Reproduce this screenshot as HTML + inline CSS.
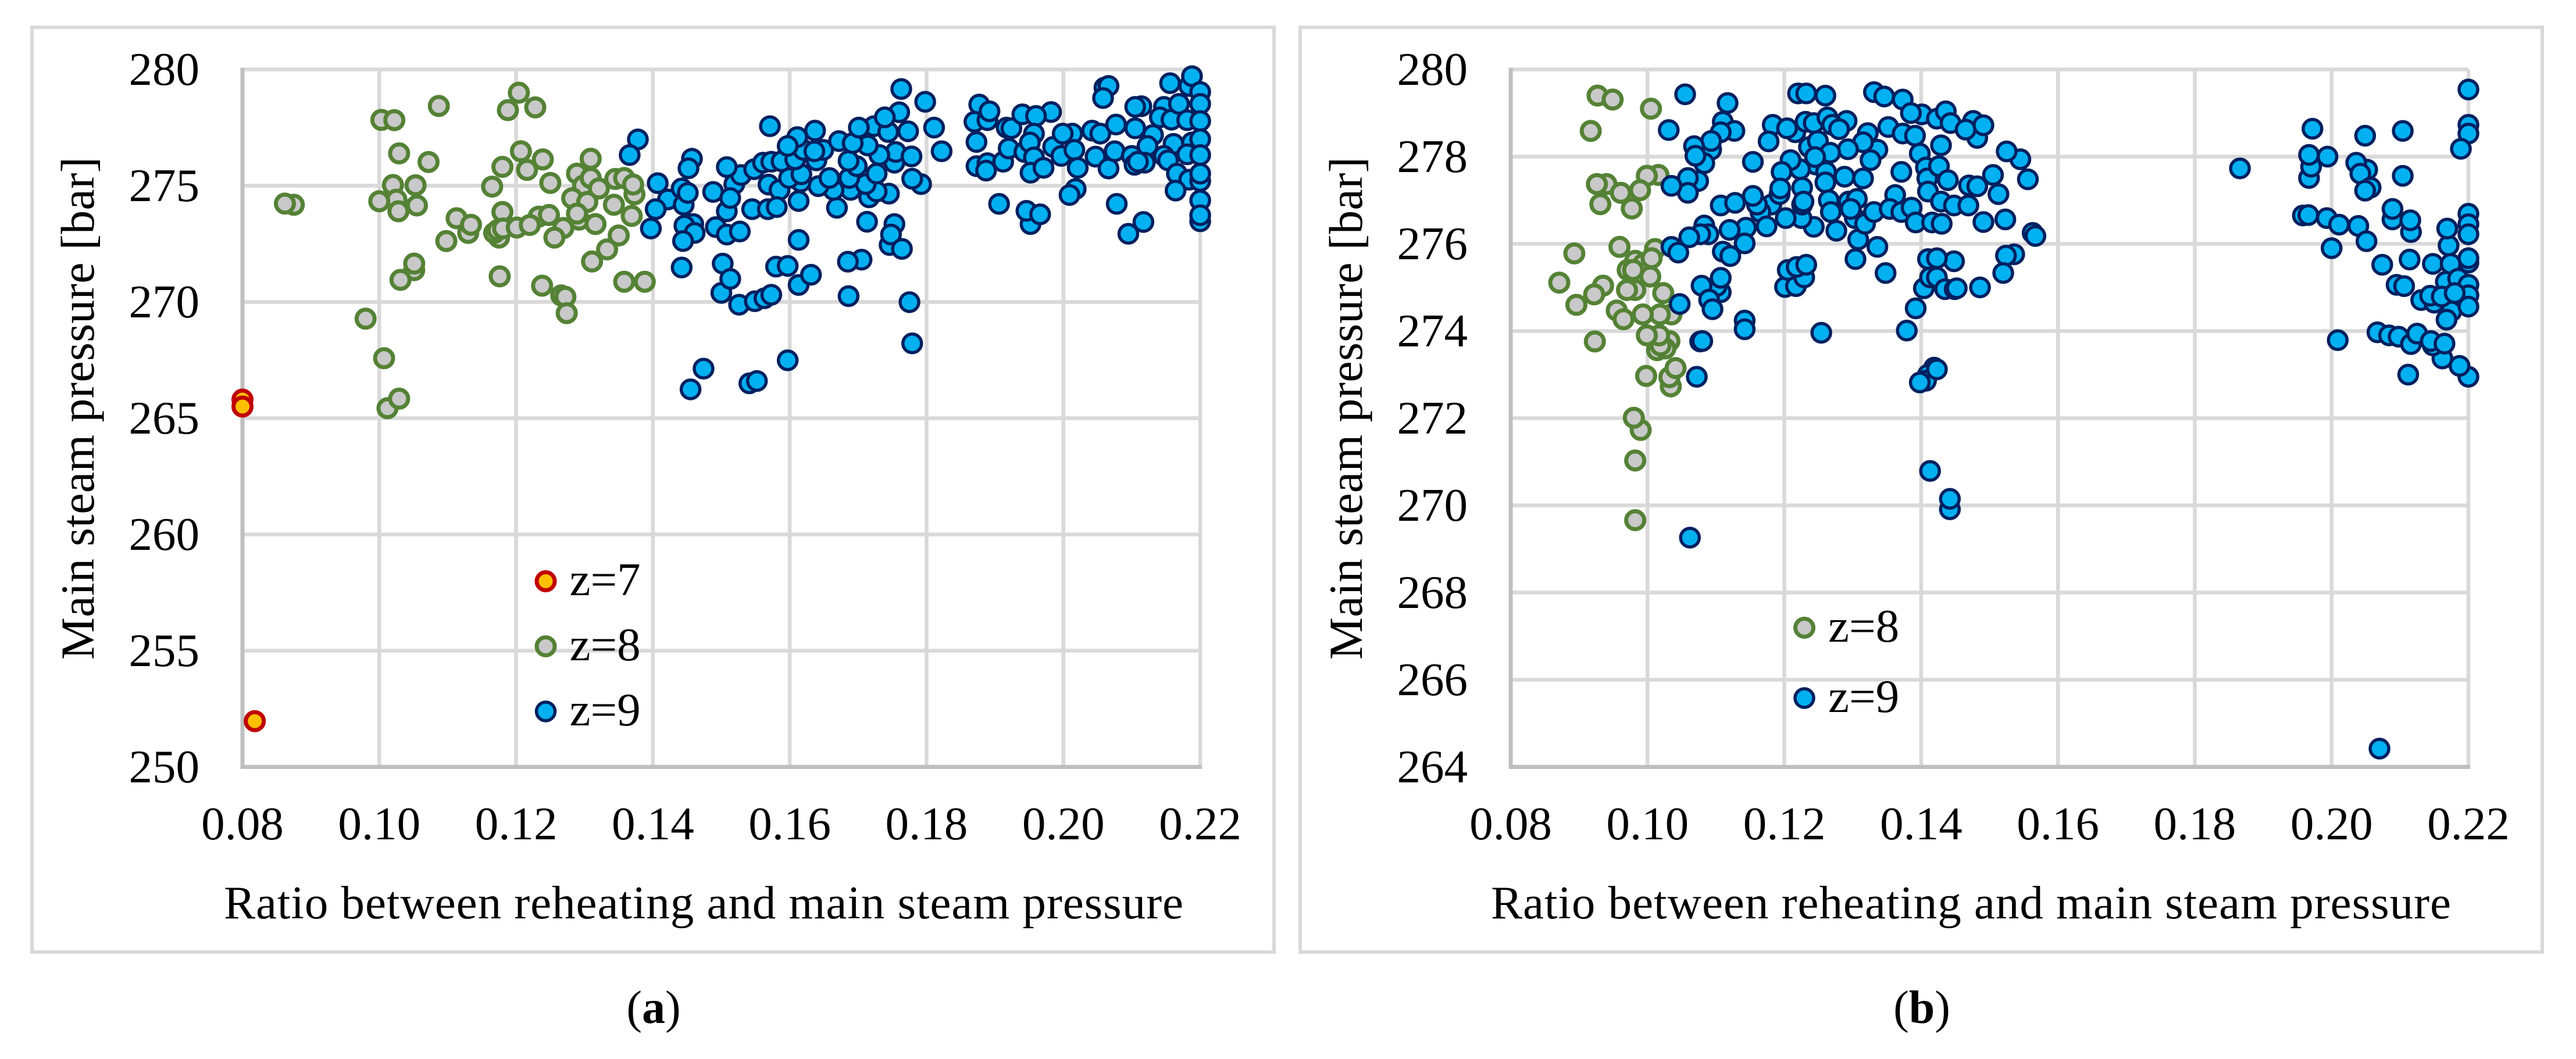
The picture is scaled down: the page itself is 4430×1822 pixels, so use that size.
<!DOCTYPE html>
<html lang="en">
<head>
<meta charset="utf-8">
<title>Main steam pressure vs reheating ratio</title>
<style>
html,body{margin:0;padding:0;background:#fff;width:4430px;height:1822px;overflow:hidden}
svg{display:block}
text{font-family:"Liberation Serif","DejaVu Serif",serif;fill:#000}
</style>
</head>
<body>
<svg id="figure" xmlns="http://www.w3.org/2000/svg" width="4430" height="1822" viewBox="0 0 4430 1822">
  <rect x="0" y="0" width="4430" height="1822" fill="#fff"/>
  <rect x="55" y="47" width="2136" height="1591" fill="#fff" stroke="#d9d9d9" stroke-width="6"/>
  <rect x="2236" y="47" width="2136" height="1591" fill="#fff" stroke="#d9d9d9" stroke-width="6"/>
  <g id="panel-a"></g>
  <g id="panel-b"></g>
  <text transform="translate(161,1135) rotate(-90)" font-size="82" textLength="865" lengthAdjust="spacing">Main steam pressure [bar]</text>
  <text transform="translate(2342,1135) rotate(-90)" font-size="82" textLength="865" lengthAdjust="spacing">Main steam pressure [bar]</text>
  <text x="385" y="1580" font-size="81" textLength="1650" lengthAdjust="spacing">Ratio between reheating and main steam pressure</text>
  <text x="2564" y="1580" font-size="81" textLength="1651" lengthAdjust="spacing">Ratio between reheating and main steam pressure</text>
  <text x="1124" y="1760" font-size="80" text-anchor="middle">(<tspan font-weight="bold">a</tspan>)</text>
  <text x="3305" y="1760" font-size="80" text-anchor="middle">(<tspan font-weight="bold">b</tspan>)</text>
</svg>
<script>
const ratioTicks = [0.08, 0.10, 0.12, 0.14, 0.16, 0.18, 0.20, 0.22];
const pressureTicksA = [250, 255, 260, 265, 270, 275, 280];
const pressureTicksB = [264, 266, 268, 270, 272, 274, 276, 278, 280];

const panelAz7 = [[0.0800,265.8],[0.0800,265.5],[0.0818,251.97]];

const panelAz8 = [
[0.1204,279.0],[0.1188,278.25],[0.1228,278.37],[0.1087,278.43],[0.1003,277.83],[0.1022,277.82],
[0.1207,276.48],[0.1180,275.81],[0.1216,275.68],[0.1239,276.13],[0.1029,276.39],[0.1072,276.02],
[0.1309,276.16],[0.1250,275.12],[0.1165,274.96],[0.1020,275.03],[0.1053,275.02],[0.1025,274.4],
[0.1000,274.33],[0.1028,273.9],[0.1055,274.15],[0.0875,274.18],[0.0862,274.23],[0.1289,275.52],
[0.1298,275.0],[0.1309,275.33],[0.1321,274.88],[0.1282,274.46],[0.1304,274.3],[0.1345,275.29],
[0.1358,275.33],[0.1373,274.63],[0.1371,275.05],[0.1343,274.18],[0.1292,273.54],[0.1289,273.8],
[0.1369,273.7],[0.1316,273.35],[0.1350,272.86],[0.1333,272.26],[0.1311,271.74],[0.1358,270.87],
[0.1388,270.87],[0.1238,270.7],[0.1266,270.28],[0.1272,270.22],[0.1274,269.52],[0.1176,271.1],
[0.1180,273.87],[0.1233,273.67],[0.1248,273.74],[0.1175,272.77],[0.1168,272.97],[0.1173,273.09],
[0.1181,273.16],[0.1201,273.2],[0.1220,273.31],[0.1269,273.18],[0.1256,272.77],[0.1113,273.6],
[0.1130,272.97],[0.1134,273.32],[0.1098,272.62],[0.1051,271.37],[0.1051,271.65],[0.1031,270.95],
[0.0980,269.28],[0.1007,267.58],[0.1012,265.43],[0.1029,265.84]
];

const panelAz9 = [
[0.1378,276.99],[0.1366,276.32],[0.1457,276.16],[0.1452,275.75],[0.1407,275.11],[0.1422,274.41],
[0.1404,273.99],[0.1397,273.16],[0.1442,274.88],[0.1445,274.18],[0.1451,274.69],[0.1459,273.35],
[0.1446,273.28],[0.1461,272.97],[0.1444,272.62],[0.1442,271.48],[0.1488,274.73],[0.1519,275.07],
[0.1508,273.9],[0.1513,274.47],[0.1492,273.22],[0.1508,272.9],[0.1527,273.03],[0.1545,273.99],
[0.1529,275.46],[0.1508,275.8],[0.1548,275.71],[0.1571,277.56],[0.1569,275.05],[0.1585,274.82],
[0.1568,273.99],[0.1581,274.08],[0.1613,274.34],[0.1613,272.67],[0.1502,271.65],[0.1500,270.39],
[0.1513,270.99],[0.1526,269.88],[0.1549,270.03],[0.1563,270.16],[0.1573,270.31],[0.1580,271.52],
[0.1597,271.55],[0.1613,270.73],[0.1631,271.17],[0.1705,271.82],[0.1685,271.73],[0.1686,270.25],
[0.1775,269.99],[0.1779,268.22],[0.1597,267.49],[0.1541,266.5],[0.1552,266.6],[0.1474,267.13],
[0.1455,266.24],[0.1713,273.45],[0.1753,273.35],[0.1746,272.45],[0.1748,272.9],[0.1764,272.28],
[0.1669,274.05],[0.1745,274.66],[0.1716,274.5],[0.1727,274.75],[0.1689,274.82],[0.1664,274.82],
[0.1642,274.98],[0.1616,275.17],[0.1599,275.33],[0.1617,275.49],[0.1658,275.33],[0.1711,275.07],
[0.1687,275.33],[0.1727,275.52],[0.1792,275.07],[0.1779,275.3],[0.1753,275.99],[0.1755,276.45],
[0.1778,276.26],[0.1731,276.32],[0.1698,275.84],[0.1686,276.07],[0.1561,275.99],[0.1573,276.03],
[0.1588,276.05],[0.1608,276.13],[0.1639,276.09],[0.1649,276.54],[0.1620,276.54],[0.1636,276.48],
[0.1611,277.09],[0.1597,276.71],[0.1637,277.37],[0.1672,276.92],[0.1714,276.73],[0.1692,276.83],
[0.1723,277.56],[0.1701,277.5],[0.1744,277.31],[0.1773,277.34],[0.1760,278.16],[0.1739,277.94],
[0.1763,279.16],[0.1798,278.61],[0.1811,277.5],[0.1822,276.48],[0.1877,278.49],[0.1870,277.75],
[0.1889,277.82],[0.1892,278.2],[0.1873,276.88],[0.1873,275.84],[0.1889,275.97],[0.1887,275.65],
[0.1912,276.03],[0.1920,276.6],[0.1917,277.5],[0.1924,277.47],[0.1943,276.45],[0.1940,278.07],
[0.1982,278.17],[0.1960,278.0],[0.1957,277.24],[0.1951,276.86],[0.1957,276.22],[0.1952,275.56],
[0.1971,275.77],[0.1985,276.67],[0.1997,276.28],[0.2013,277.24],[0.1999,277.24],[0.2016,276.54],
[0.2021,275.77],[0.2042,277.37],[0.2054,277.24],[0.2047,276.25],[0.2066,275.74],[0.2075,276.48],
[0.2077,277.63],[0.2060,279.22],[0.2066,279.29],[0.2058,278.77],[0.2114,278.42],[0.2105,278.39],
[0.2105,277.47],[0.2131,277.18],[0.2123,276.71],[0.2100,276.28],[0.2119,275.99],[0.2104,275.9],
[0.2109,276.03],[0.2147,278.39],[0.2141,277.94],[0.2158,277.84],[0.2156,279.41],[0.2184,279.29],
[0.2188,279.71],[0.2169,278.52],[0.2181,277.82],[0.2161,276.8],[0.2147,276.28],[0.2153,276.09],
[0.2166,275.52],[0.2184,275.26],[0.2164,274.79],[0.2188,276.86],[0.2181,276.35],[0.22,279.03],
[0.22,278.52],[0.22,277.78],[0.22,277.0],[0.22,276.32],[0.22,275.2],[0.22,275.52],
[0.22,273.47],[0.22,274.37],[0.22,273.73],[0.2018,274.86],[0.2009,274.6],[0.2078,274.22],
[0.2117,273.44],[0.2095,272.93],[0.1906,274.22],[0.1952,273.35],[0.1946,273.92],[0.1966,273.77]
];

const panelBz8 = [
[0.0927,279.40],[0.0949,279.31],[0.1005,279.10],[0.0917,278.59],[0.0940,277.37],[0.0926,277.37],
[0.0961,277.17],[0.1016,277.58],[0.0999,277.56],[0.0989,277.23],[0.0931,276.91],[0.0977,276.81],
[0.0959,275.93],[0.0893,275.78],[0.1011,275.88],[0.0982,275.61],[0.0994,275.54],[0.1006,275.67],
[0.0971,275.4],[0.0979,275.4],[0.1004,275.25],[0.0871,275.11],[0.0935,275.04],[0.0922,274.84],
[0.0982,274.94],[0.0970,274.94],[0.1023,274.87],[0.0896,274.6],[0.0955,274.47],[0.1035,274.38],
[0.1018,274.38],[0.0993,274.38],[0.0965,274.27],[0.1032,273.77],[0.1014,273.56],[0.1026,273.6],
[0.1019,273.67],[0.1017,273.9],[0.0999,273.9],[0.0923,273.76],[0.0998,272.97],[0.1034,272.73],
[0.1032,272.94],[0.1041,273.15],[0.0990,271.73],[0.0980,272.01],[0.0982,271.03],[0.0982,269.66]
];

const panelBz9 = [
[0.1055,279.43],[0.1117,279.23],[0.1031,278.61],[0.1110,278.80],[0.1127,278.59],[0.1107,278.56],
[0.1093,278.16],[0.1093,278.36],[0.1068,278.24],[0.1083,277.85],[0.1070,278.02],[0.1154,277.88],
[0.1074,277.44],[0.1059,277.51],[0.1059,277.17],[0.1035,277.33],[0.1107,276.88],[0.1128,276.94],
[0.1181,276.9],[0.1165,276.73],[0.1160,276.9],[0.1154,277.1],[0.1174,276.4],[0.1144,276.37],
[0.1120,276.32],[0.1083,276.42],[0.1089,276.22],[0.1077,276.22],[0.1061,276.15],[0.1035,275.93],
[0.1045,275.8],[0.1142,276.01],[0.1110,275.82],[0.1121,275.72],[0.1107,274.89],[0.1101,275.03],
[0.1107,275.22],[0.1079,275.04],[0.1090,274.72],[0.1095,274.5],[0.1047,274.62],[0.1142,274.24],
[0.1142,274.04],[0.1077,273.76],[0.1080,273.77],[0.1072,272.95],[0.1254,273.96],[0.1379,274.01],
[0.1392,274.52],[0.1348,275.33],[0.1304,275.65],[0.1336,275.93],[0.1308,276.1],[0.1276,276.3],
[0.1243,276.39],[0.1225,276.59],[0.1202,276.59],[0.1201,275.01],[0.1217,275.03],[0.1229,275.23],
[0.1205,275.4],[0.1218,275.47],[0.1232,275.52],[0.1404,274.98],[0.1410,275.65],[0.1413,275.23],
[0.1419,273.16],[0.1410,273.0],[0.1407,272.86],[0.1398,272.82],[0.1220,279.45],[0.1232,279.45],
[0.1260,279.4],[0.1331,279.48],[0.1346,279.38],[0.1373,279.31],[0.1401,278.97],[0.1385,279.0],
[0.1183,278.73],[0.1216,278.56],[0.1204,278.65],[0.1177,278.35],[0.1231,278.8],[0.1243,278.77],
[0.1263,278.9],[0.1291,278.82],[0.1270,278.73],[0.1280,278.63],[0.1352,278.68],[0.1322,278.54],
[0.1373,278.53],[0.1391,278.48],[0.1236,278.22],[0.1249,278.36],[0.1336,278.16],[0.1315,278.33],
[0.1293,278.17],[0.1267,278.09],[0.1398,278.07],[0.1246,277.82],[0.1223,277.71],[0.1245,277.99],
[0.1209,277.92],[0.1326,277.92],[0.1196,277.65],[0.1261,277.65],[0.1371,277.65],[0.1288,277.54],
[0.1315,277.5],[0.1407,277.75],[0.1409,277.5],[0.1260,277.41],[0.1193,277.14],[0.1194,277.27],
[0.1226,277.29],[0.1362,277.12],[0.1410,277.2],[0.1226,276.9],[0.1228,276.97],[0.1265,277.0],
[0.1294,276.97],[0.1306,277.03],[0.1303,276.59],[0.1297,276.8],[0.1268,276.73],[0.1318,276.46],
[0.1331,276.73],[0.1354,276.8],[0.1371,276.73],[0.1386,276.83],[0.1392,276.49],[0.1416,276.49],
[0.1423,278.87],[0.1436,279.04],[0.1443,278.77],[0.1482,278.43],[0.1476,278.82],[0.1465,278.62],
[0.1491,278.72],[0.1429,278.26],[0.1545,277.94],[0.1525,278.12],[0.1556,277.48],[0.1426,277.78],
[0.1439,277.46],[0.1470,277.34],[0.1482,277.32],[0.1513,277.14],[0.1505,277.58],[0.1429,276.97],
[0.1448,276.88],[0.1469,276.88],[0.1491,276.5],[0.1523,276.56],[0.1430,276.46],[0.1563,276.25],
[0.1567,276.18],[0.1536,275.76],[0.1524,275.73],[0.1520,275.33],[0.1448,275.6],[0.1423,275.67],
[0.1423,275.23],[0.1486,275.0],[0.1435,274.96],[0.1449,274.96],[0.1452,274.98],[0.1423,273.12],
[0.1866,277.73],[0.1972,278.64],[0.2049,278.48],[0.2104,278.59],[0.1967,277.51],[0.1970,277.77],
[0.1967,278.04],[0.1994,278.0],[0.2052,277.7],[0.2036,277.86],[0.2042,277.61],[0.2057,277.29],
[0.2049,277.22],[0.2104,277.56],[0.22,279.54],[0.22,278.73],[0.22,278.53],[0.2189,278.18],
[0.1958,276.65],[0.1966,276.66],[0.1993,276.59],[0.2011,276.44],[0.2039,276.41],[0.2051,276.06],
[0.2000,275.9],[0.2089,276.56],[0.2089,276.8],[0.2116,276.27],[0.2115,276.54],[0.2074,275.52],
[0.2114,275.64],[0.2148,275.54],[0.2171,275.96],[0.2169,276.35],[0.22,276.69],[0.22,276.45],
[0.22,276.22],[0.22,275.57],[0.2174,275.54],[0.22,275.67],[0.2167,275.13],[0.2185,275.2],
[0.2175,274.45],[0.2168,274.26],[0.22,275.06],[0.22,274.82],[0.2095,275.06],[0.2106,275.03],
[0.2131,274.71],[0.2150,274.65],[0.2144,274.81],[0.2161,274.79],[0.2180,274.87],[0.22,274.56],
[0.2009,273.79],[0.2067,273.97],[0.2084,273.9],[0.2098,273.87],[0.2116,273.7],[0.2125,273.94],
[0.2162,273.37],[0.2148,273.67],[0.2145,273.77],[0.2165,273.71],[0.22,272.95],[0.2187,273.2],
[0.2112,273.0],[0.2070,264.42],[0.1413,270.79],[0.1442,269.91],[0.1442,270.15],[0.1062,269.26]
];

const seriesStyles = {
  z7: {label: 'z=7', fill: '#ffc000', stroke: '#c00000', r: 15.5, sw: 7},
  z8: {label: 'z=8', fill: '#c9c9c9', stroke: '#548235', r: 15.5, sw: 7},
  z9: {label: 'z=9', fill: '#00b0f0', stroke: '#002060', r: 16, sw: 5.5}
};

const SVGNS = 'http://www.w3.org/2000/svg';

function makeEl(tag, parent, attrs) {
  const el = document.createElementNS(SVGNS, tag);
  for (const k in attrs) el.setAttribute(k, attrs[k]);
  parent.appendChild(el);
  return el;
}

function drawPanel(cfg) {
  const g = document.getElementById(cfg.id);
  const xMin = ratioTicks[0], xMax = ratioTicks[ratioTicks.length - 1];
  const yMin = cfg.yTicks[0], yMax = cfg.yTicks[cfg.yTicks.length - 1];
  const xScale = v => cfg.left + (v - xMin) / (xMax - xMin) * (cfg.right - cfg.left);
  const yScale = v => cfg.bottom - (v - yMin) / (yMax - yMin) * (cfg.bottom - cfg.top);

  cfg.yTicks.forEach(t => {
    if (t !== yMin) {
      const gl = makeEl('line', g, {x1: cfg.left, x2: cfg.right, y1: yScale(t), y2: yScale(t), stroke: '#d9d9d9', 'stroke-width': 6.5});
      
      
    }
    const lab = makeEl('text', g, {x: cfg.left - 74, y: yScale(t) + 26.5, 'font-size': 81, 'text-anchor': 'end'});
    
    
    lab.textContent = String(t);
  });

  ratioTicks.forEach(t => {
    if (t !== xMin) {
      const gl = makeEl('line', g, {x1: xScale(t), x2: xScale(t), y1: cfg.top, y2: cfg.bottom, stroke: '#d9d9d9', 'stroke-width': 6.5});
      
      
    }
    const lab = makeEl('text', g, {x: xScale(t), y: 1444, 'font-size': 81, 'text-anchor': 'middle'});
    
    
    lab.textContent = t.toFixed(2);
  });

  const yAxis = makeEl('line', g, {x1: cfg.left, x2: cfg.left, y1: cfg.top - 3, y2: cfg.bottom + 3, stroke: '#bfbfbf', 'stroke-width': 7});
  
  
  const xAxis = makeEl('line', g, {x1: cfg.left - 3, x2: cfg.right + 3, y1: cfg.bottom, y2: cfg.bottom, stroke: '#bfbfbf', 'stroke-width': 7});
  
  

  cfg.series.forEach(s => {
    const st = seriesStyles[s.key];
    const sg = makeEl('g', g, {});
    
    
    s.data.forEach(d => {
      const c = makeEl('circle', sg, {cx: xScale(d[0]), cy: yScale(d[1]), r: st.r, fill: st.fill, stroke: st.stroke, 'stroke-width': st.sw});
      
      
    });
  });

  cfg.series.forEach((s, i) => {
    const st = seriesStyles[s.key];
    const my = cfg.legendY[i];
    const m = makeEl('circle', g, {cx: cfg.legendX, cy: my, r: st.r, fill: st.fill, stroke: st.stroke, 'stroke-width': st.sw});
    
    
    const t = makeEl('text', g, {x: cfg.legendX + 41, y: my + 24, 'font-size': 81});
    
    
    t.textContent = st.label;
  });
}

drawPanel({
  id: 'panel-a', left: 417, right: 2064, top: 119.5, bottom: 1319.5,
  yTicks: pressureTicksA, legendX: 938.5, legendY: [1000, 1112, 1224],
  series: [{key: 'z7', data: panelAz7}, {key: 'z8', data: panelAz8}, {key: 'z9', data: panelAz9}]
});
drawPanel({
  id: 'panel-b', left: 2598, right: 4245, top: 119.5, bottom: 1319.5,
  yTicks: pressureTicksB, legendX: 3103, legendY: [1080, 1201],
  series: [{key: 'z8', data: panelBz8}, {key: 'z9', data: panelBz9}]
});
</script>
</body>
</html>
